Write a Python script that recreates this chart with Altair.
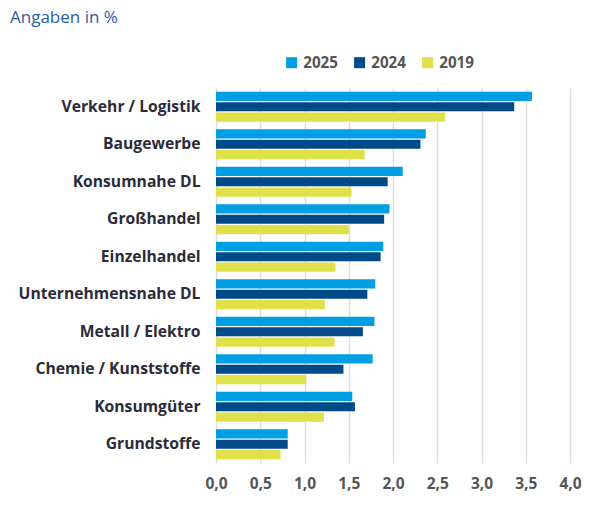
import pandas as pd
import altair as alt

# Daten
branchen = [
    "Verkehr / Logistik", "Baugewerbe", "Konsumnahe DL", "Großhandel",
    "Einzelhandel", "Unternehmensnahe DL", "Metall / Elektro",
    "Chemie / Kunststoffe", "Konsumgüter", "Grundstoffe",
]
jahre = ["2025", "2024", "2019"]
werte_2025 = [3.57, 2.37, 2.11, 1.96, 1.89, 1.80, 1.79, 1.77, 1.54, 0.81]
werte_2024 = [3.37, 2.31, 1.94, 1.90, 1.86, 1.71, 1.66, 1.44, 1.57, 0.81]
werte_2019 = [2.59, 1.68, 1.53, 1.50, 1.35, 1.23, 1.34, 1.02, 1.22, 0.73]
farben = ["#009fe3", "#004a87", "#dfe04a"]

rows = []
for jahr, werte in zip(jahre, [werte_2025, werte_2024, werte_2019]):
    for b, w in zip(branchen, werte):
        rows.append({"branche": b, "jahr": jahr, "wert": w})
df = pd.DataFrame(rows)

font = "Open Sans"

chart = alt.Chart(df).mark_bar().encode(
    y=alt.Y("branche:N", sort=branchen, title=None,
            scale=alt.Scale(paddingInner=0.2, paddingOuter=0.1),
            axis=alt.Axis(labelFont=font, labelFontSize=15.7, labelFontWeight="bold",
                          labelColor="#2b2b3a", labelPadding=16, ticks=False,
                          domain=False, labelLimit=250)),
    x=alt.X("wert:Q", title=None,
            scale=alt.Scale(domain=[0, 4]),
            axis=alt.Axis(values=[0, 0.5, 1, 1.5, 2, 2.5, 3, 3.5, 4],
                          labelExpr="replace(format(datum.value, '.1f'), '.', ',')",
                          labelFont=font, labelFontSize=15.5, labelFontWeight="bold",
                          labelColor="#555555", labelPadding=13, ticks=False,
                          labelFlush=False, labelOverlap=False,
                          domain=False, gridColor="#dddddd", gridWidth=1.5)),
    yOffset=alt.YOffset("jahr:N", sort=jahre,
                        scale=alt.Scale(paddingInner=0.12)),
    color=alt.Color("jahr:N", sort=jahre,
                    scale=alt.Scale(domain=jahre, range=farben),
                    legend=alt.Legend(title=None, orient="none", direction="horizontal",
                                      legendX=68, legendY=-33, symbolType="square",
                                      symbolSize=121, symbolStrokeWidth=0,
                                      labelFont=font, labelFontSize=15.2,
                                      labelFontWeight="bold", labelColor="#555555",
                                      columnPadding=14, labelOffset=4)),
).properties(
    width=354,
    height=375,
    autosize=alt.AutoSizeParams(type="none"),
    padding={"left": 208, "top": 80, "right": 20, "bottom": 40},
    title=alt.TitleParams("Angaben in %", anchor="start", frame="group",
                          font=font, fontSize=17, fontWeight="normal",
                          color="#2a5ca8", dx=-206, dy=-24),
).configure_view(stroke=None)

chart.save("out.html", embed_options={"renderer": "svg", "actions": False})
